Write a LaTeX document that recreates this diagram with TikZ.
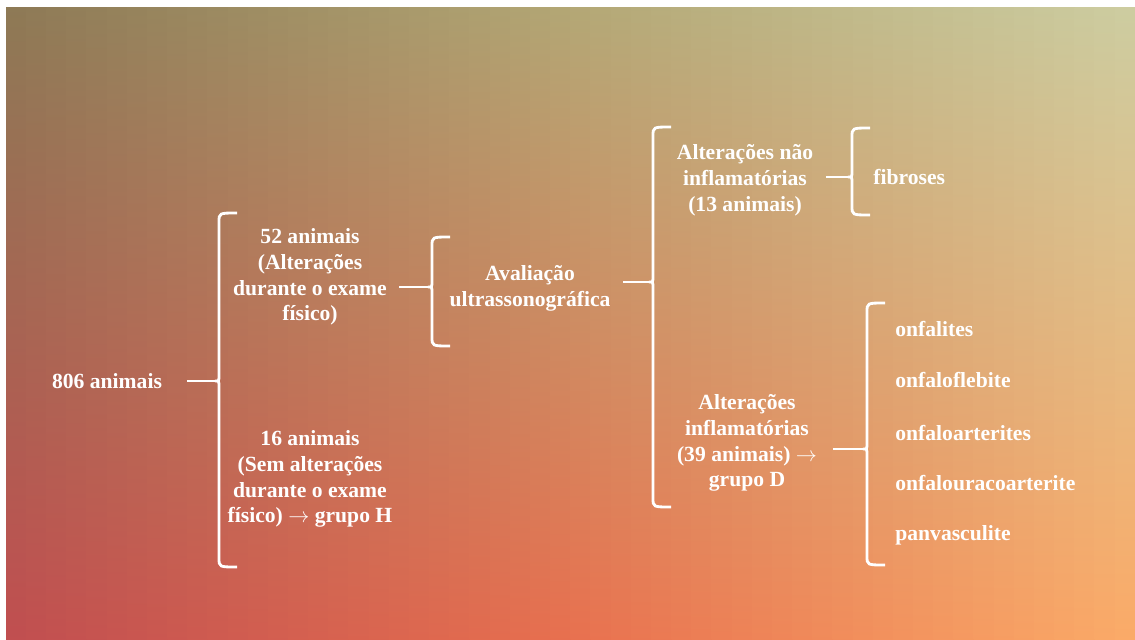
\documentclass[tikz,border=0pt]{standalone}
\usepackage{fontspec}
\setmainfont{Liberation Serif}
\usepackage{tikz}
\usetikzlibrary{positioning,calc}

% curly bracket: x of spine, top, cusp, bottom (pixel units)
\newcommand{\curlybrace}[4]{%
  \draw[brace] ({#1+18},#2) .. controls (#1,#2) .. (#1,{#2+9}) -- (#1,{#3-6})
    .. controls (#1,#3) .. ({#1-4},#3) .. controls (#1,#3) .. (#1,{#3+6})
    -- (#1,{#4-9}) .. controls (#1,#4) .. ({#1+18},#4);}

\begin{document}
\begin{tikzpicture}[x=0.02cm,y=-0.02cm,
  font=\bfseries\fontsize{12.3}{14.7}\selectfont,align=center,text=white,
  brace/.style={draw=white,line width=1.6pt},
  stem/.style={draw=white,line width=1.6pt,shorten <=5pt},
  lbl/.style={inner sep=2pt},
  item/.style={inner sep=0pt,anchor=west}]
\definecolor{bgTL}{HTML}{8D7955}
\definecolor{bgTM}{HTML}{B3A775}
\definecolor{bgTR}{HTML}{CDCDA1}
\definecolor{bgML}{HTML}{AD5D57}
\definecolor{bgMM}{HTML}{D6855E}
\definecolor{bgMR}{HTML}{E7B77F}
\definecolor{bgBL}{HTML}{C04E50}
\definecolor{bgBM}{HTML}{E8704F}
\definecolor{bgBR}{HTML}{FBAB68}
\useasboundingbox (0,0) rectangle (1135,639);
\fill[white] (0,0) rectangle (1135,639);
% background gradient, in strips
\foreach \i in {0,...,27}{
  \pgfmathsetmacro{\p}{100*(\i+0.5)/28}
  \colorlet{ctop}{bgTM!\p!bgTL}
  \colorlet{cmid}{bgMM!\p!bgML}
  \colorlet{cbot}{bgBM!\p!bgBL}
  \shade[top color=ctop,middle color=cmid,bottom color=cbot] ({6+\i*20.16},7) rectangle ({6+(\i+1)*20.16+0.6},639);
}
\foreach \i in {0,...,27}{
  \pgfmathsetmacro{\p}{100*(\i+0.5)/28}
  \colorlet{ctop}{bgTR!\p!bgTM}
  \colorlet{cmid}{bgMR!\p!bgMM}
  \colorlet{cbot}{bgBR!\p!bgBM}
  \shade[top color=ctop,middle color=cmid,bottom color=cbot] ({570.5+\i*20.16},7) rectangle ({570.5+(\i+1)*20.16+0.6},639);
}
% texts
\node[lbl] (total) at (107,381) {806 animais};
\node[lbl] (alt52) at (310,277) {52 animais\\(Alterações\\durante o exame\\físico)};
\node[lbl] (sem16) at (310,479) {16 animais\\(Sem alterações\\durante o exame\\físico) $\rightarrow$ grupo H};
\node[lbl] (usg) at (530,288) {Avaliação\\ultrassonográfica};
\node[lbl] (naoinf) at (745,180) {Alterações não\\inflamatórias\\(13 animais)};
\node[lbl] (inflam) at (747,443) {Alterações\\inflamatórias\\(39 animais) $\rightarrow$\\grupo D};
\node[item] (fib) at (873,177) {fibroses};
\node[item] (onf) at (895,329) {onfalites};
\node[item] (flb) at (895,380) {onfaloflebite};
\node[item] (art) at (895,433) {onfaloarterites};
\node[item] (ura) at (895,483) {onfalouracoarterite};
\node[item] (pan) at (895,535) {panvasculite};
% brackets
\coordinate (b1) at (215,381);
\coordinate (b2) at (428,287);
\coordinate (b3) at (649,282);
\coordinate (b4) at (848,177);
\coordinate (b5) at (863,449);
\curlybrace{219}{213}{381}{567}
\curlybrace{432}{237}{287}{346}
\curlybrace{653}{127}{282}{507}
\curlybrace{852}{128}{177}{215}
\curlybrace{867}{303}{449}{565}
\draw[stem,shorten <=12pt] (total.east |- b1) -- (b1);
\draw[stem] (alt52.east |- b2) -- (b2);
\draw[stem,shorten <=5pt] (usg.east |- b3) -- (b3);
\draw[stem] (naoinf.east |- b4) -- (b4);
\draw[stem,shorten <=7pt] (inflam.east |- b5) -- (b5);
\end{tikzpicture}
\end{document}
